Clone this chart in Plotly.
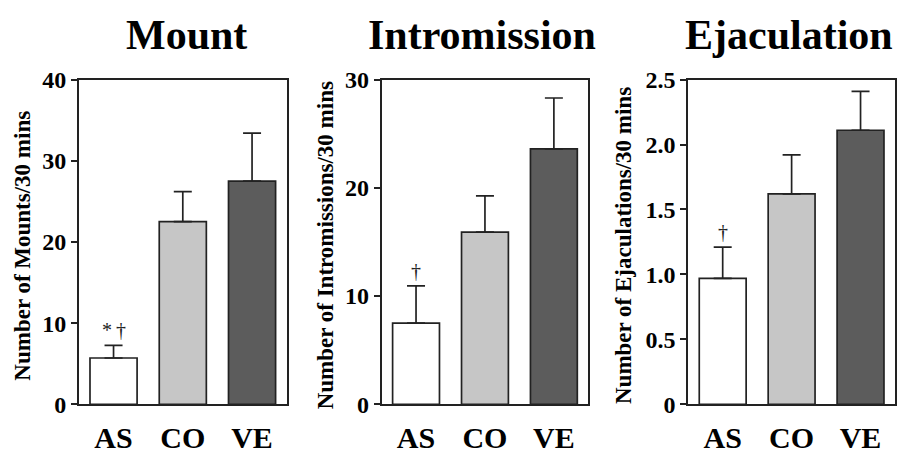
import plotly.graph_objects as go

W, H = 897, 454

categories = ["AS", "CO", "VE"]
colors = ["#ffffff", "#c6c6c6", "#5c5c5c"]

titles = ["Mount", "Intromission", "Ejaculation"]
ytitles = ["Number of Mounts/30 mins", "Number of Intromissions/30 mins",
           "Number of Ejaculations/30 mins"]

mount_mean = [5.7, 22.5, 27.5]
mount_sem = [1.55, 3.7, 5.9]
intro_mean = [7.5, 15.9, 23.6]
intro_sem = [3.45, 3.35, 4.7]
ejac_mean = [0.97, 1.62, 2.11]
ejac_sem = [0.24, 0.30, 0.30]

mount_ticks = [0, 10, 20, 30, 40]
mount_ticktext = ["0", "10", "20", "30", "40"]
intro_ticks = [0, 10, 20, 30]
intro_ticktext = ["0", "10", "20", "30"]
ejac_ticks = [0, 0.5, 1.0, 1.5, 2.0, 2.5]
ejac_ticktext = ["0", "0.5", "1.0", "1.5", "2.0", "2.5"]

sig_marks = ["*\u2009\u2020", "\u2020", "\u2020"]

means = [mount_mean, intro_mean, ejac_mean]
sems = [mount_sem, intro_sem, ejac_sem]
ticks = [mount_ticks, intro_ticks, ejac_ticks]
ticktexts = [mount_ticktext, intro_ticktext, ejac_ticktext]
ranges = [[0, 40], [0, 30], [0, 2.5]]

# pixel layout of the three panels
px_x = [(79, 287), (382, 589), (689, 896)]
px_y = (71, 417)
ytitle_x = [23, 326, 624]
title_x = [187, 483, 790]

FONT = "Liberation Serif, Times New Roman, serif"
LINE = "#222222"

fig = go.Figure()
annotations = []
for i in range(3):
    xa = "x" if i == 0 else f"x{i+1}"
    ya = "y" if i == 0 else f"y{i+1}"
    fig.add_trace(go.Bar(
        x=categories, y=means[i], xaxis=xa, yaxis=ya,
        marker=dict(color=colors, line=dict(color=LINE, width=1.7)),
        width=0.68,
        error_y=dict(type="data", array=sems[i], arrayminus=[0, 0, 0],
                     symmetric=False, color=LINE, thickness=1.7, width=9),
        showlegend=False, hoverinfo="skip",
    ))
    xkey = "xaxis" if i == 0 else f"xaxis{i+1}"
    ykey = "yaxis" if i == 0 else f"yaxis{i+1}"
    fig.update_layout(**{
        xkey: dict(domain=[px_x[i][0] / W, px_x[i][1] / W], anchor=ya,
                   range=[-0.5, 2.5], showline=True, linecolor=LINE, linewidth=1.7,
                   mirror=True, ticks="", showgrid=False, zeroline=False,
                   ticklabelstandoff=6,
                   tickfont=dict(size=30, family=FONT, color="#000", weight="bold")),
        ykey: dict(domain=[1 - px_y[1] / H, 1 - px_y[0] / H], anchor=xa,
                   range=ranges[i], tickmode="array", tickvals=ticks[i],
                   ticktext=ticktexts[i], showline=True, linecolor=LINE, linewidth=1.7,
                   mirror=True, ticks="outside", ticklen=6, tickwidth=1.7,
                   tickcolor=LINE, showgrid=False, zeroline=False,
                   tickfont=dict(size=24, family=FONT, color="#000", weight="bold")),
    })
    # panel title
    annotations.append(dict(text=titles[i], xref="paper", yref="paper",
                            x=title_x[i] / W, y=1 - 23 / H, xanchor="center",
                            yanchor="middle", showarrow=False,
                            font=dict(size=42, family=FONT, color="#000", weight="bold")))
    # y title
    annotations.append(dict(text=ytitles[i], xref="paper", yref="paper",
                            x=ytitle_x[i] / W, y=1 - 248 / H, xanchor="center",
                            yanchor="middle", textangle=-90, showarrow=False,
                            font=dict(size=23, family=FONT, color="#000", weight="bold")))
    # significance mark over AS bar
    annotations.append(dict(text=sig_marks[i], xref=xa, yref=ya, x=categories[0],
                            y=means[i][0] + sems[i][0], xanchor="center",
                            yanchor="bottom", yshift=2, showarrow=False,
                            font=dict(size=20, family=FONT, color="#222")))

fig.update_layout(
    width=W, height=H, margin=dict(l=0, r=0, t=0, b=0),
    paper_bgcolor="white", plot_bgcolor="white",
    annotations=annotations, bargap=0.32,
)

fig.write_html("out.html")
